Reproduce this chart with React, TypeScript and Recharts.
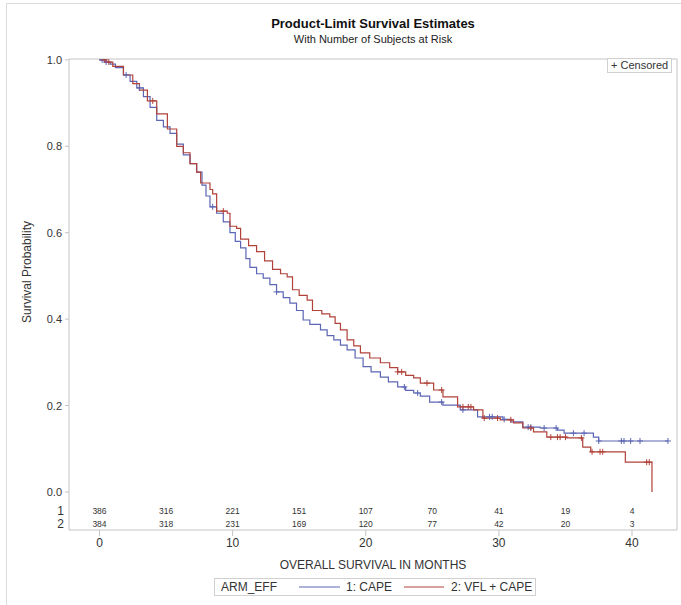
import { ComposedChart, Line, Scatter, XAxis, YAxis, ReferenceArea } from 'recharts'

// Kaplan-Meier steps (months, survival)
const capeTime = [0, 0.4, 0.8, 1.2, 1.8, 2.3, 2.8, 3.3, 3.8, 4.3, 4.8, 5.3, 5.8, 6.3, 6.8, 7.3, 7.7, 8.0, 8.3, 8.8, 9.3, 9.8, 10.2, 10.6, 11.0, 11.3, 11.8, 12.3, 12.8, 13.3, 13.8, 14.3, 14.8, 15.3, 15.8, 16.6, 17.1, 17.6, 18.1, 18.6, 19.2, 19.8, 20.4, 21.1, 21.7, 22.4, 23.0, 23.6, 24.1, 24.8, 25.8, 27.1, 28.4, 30.3, 30.9, 31.8, 33.1, 34.4, 34.9, 37.1, 37.5, 42.7]
const capeSurv = [1.0, 0.995, 0.99, 0.982, 0.965, 0.95, 0.935, 0.915, 0.89, 0.86, 0.845, 0.83, 0.805, 0.78, 0.76, 0.74, 0.71, 0.685, 0.66, 0.645, 0.625, 0.6, 0.58, 0.565, 0.54, 0.52, 0.505, 0.495, 0.48, 0.463, 0.45, 0.437, 0.42, 0.398, 0.388, 0.375, 0.362, 0.352, 0.34, 0.329, 0.31, 0.29, 0.278, 0.266, 0.255, 0.243, 0.235, 0.229, 0.222, 0.208, 0.201, 0.19, 0.174, 0.168, 0.162, 0.15, 0.148, 0.143, 0.136, 0.127, 0.118, 0.118]

const vflTime = [0, 0.5, 1.0, 1.8, 2.5, 3.0, 3.6, 4.3, 5.1, 5.8, 6.3, 6.8, 7.3, 7.6, 8.3, 8.5, 8.8, 9.6, 9.8, 10.3, 10.6, 11.2, 11.8, 12.4, 13.0, 13.6, 14.1, 14.5, 15.0, 15.6, 16.0, 16.7, 17.3, 17.7, 18.1, 18.6, 19.1, 19.6, 20.3, 21.1, 21.8, 22.4, 23.0, 23.6, 24.1, 25.1, 25.8, 26.9, 28.1, 28.8, 30.1, 31.1, 31.8, 32.6, 33.6, 35.1, 36.3, 36.9, 39.5, 41.5]
const vflSurv = [1.0, 0.995, 0.985, 0.965, 0.945, 0.93, 0.905, 0.875, 0.84, 0.8, 0.785, 0.76, 0.74, 0.715, 0.7, 0.69, 0.65, 0.645, 0.615, 0.61, 0.585, 0.57, 0.556, 0.535, 0.515, 0.505, 0.498, 0.468, 0.455, 0.444, 0.42, 0.412, 0.405, 0.39, 0.375, 0.352, 0.338, 0.322, 0.31, 0.299, 0.288, 0.278, 0.27, 0.264, 0.252, 0.236, 0.22, 0.197, 0.19, 0.171, 0.167, 0.16, 0.148, 0.139, 0.127, 0.125, 0.104, 0.093, 0.069, 0.0]

const capeCensored = [0.2, 0.5, 2.0, 3.0, 8.5, 13.3, 22.9, 23.9, 25.7, 27.3, 29.3, 29.5, 30.4, 32.2, 32.4, 33.4, 34.3, 35.6, 36.4, 37.5, 39.2, 39.4, 39.9, 40.6, 42.7]
const vflCensored = [0.4, 0.7, 4.0, 9.3, 22.4, 22.7, 24.6, 25.7, 27.3, 27.7, 27.9, 28.9, 29.9, 30.9, 32.4, 33.9, 34.4, 34.6, 35.0, 36.2, 37.0, 37.6, 37.8, 41.1, 41.3]

const riskTimes = [0, 5, 10, 15, 20, 25, 30, 35, 40]
const capeAtRisk = [386, 316, 221, 151, 107, 70, 41, 19, 4]
const vflAtRisk = [384, 318, 231, 169, 120, 77, 42, 20, 3]

const xTicks = [0, 10, 20, 30, 40]
const yTicks = [0, 0.2, 0.4, 0.6, 0.8, 1.0]

const BLUE = '#5c66b4'
const RED = '#b0423a'
const FRAME = '#c4c4c4'
const FONT = '"Liberation Sans", Arial, sans-serif'
const ROW1 = -0.044
const ROW2 = -0.074
const X_DOMAIN: [number, number] = [-2.29, 43.38]
const Y_DOMAIN: [number, number] = [-0.088, 1.002]

const survAt = (times: number[], surv: number[], t: number) => {
  let s = surv[0]
  for (let i = 0; i < times.length; i++) if (times[i] <= t) s = surv[i]
  return s
}

const capeData = capeTime.map((t, i) => ({ t, s: capeSurv[i] }))
const vflData = vflTime.map((t, i) => ({ t, s: vflSurv[i] }))
const capeMarks = capeCensored.map((t) => ({ t, s: survAt(capeTime, capeSurv, t) }))
const vflMarks = vflCensored.map((t) => ({ t, s: survAt(vflTime, vflSurv, t) }))
const riskData = [
  ...riskTimes.map((t, i) => ({ t, s: ROW1, n: capeAtRisk[i] })),
  ...riskTimes.map((t, i) => ({ t, s: ROW2, n: vflAtRisk[i] })),
]

const plus = (color: string) => (p: any) => (
  <path d={`M${p.cx - 3},${p.cy}h6M${p.cx},${p.cy - 3}v6`} stroke={color} strokeWidth={1} fill="none" />
)

const YTick = (p: any) => {
  const v = p.payload.value
  if (v < 0) {
    return (
      <text x={p.x + 2} y={p.y + 4} textAnchor="end" fontSize={12} fill="#333" fontFamily={FONT}>
        {v === ROW1 ? '1' : '2'}
      </text>
    )
  }
  return (
    <g>
      <line x1={p.x + 3} x2={p.x + 7} y1={p.y} y2={p.y} stroke={FRAME} />
      <text x={p.x} y={p.y + 4} textAnchor="end" fontSize={11} fill="#333" fontFamily={FONT}>
        {v.toFixed(1)}
      </text>
    </g>
  )
}

export default function App() {
  return (
    <div style={{ position: 'absolute', left: 0, top: 0, width: 681, height: 605, background: '#fff', fontFamily: FONT }}>
      <ComposedChart width={681} height={605} margin={{ top: 59, right: 4, left: 9, bottom: 45 }}>
        <XAxis
          type="number"
          dataKey="t"
          domain={X_DOMAIN}
          ticks={xTicks}
          allowDataOverflow
          axisLine={false}
          tickSize={6}
          tickLine={{ stroke: FRAME }}
          tick={{ fontSize: 12, fill: '#333', fontFamily: FONT }}
          height={30}
        />
        <YAxis
          type="number"
          dataKey="s"
          domain={Y_DOMAIN}
          ticks={[ROW2, ROW1, ...yTicks]}
          interval={0}
          allowDataOverflow
          axisLine={false}
          tickLine={false}
          tickSize={4}
          tickMargin={3}
          tick={<YTick />}
          width={60}
        />
        <ReferenceArea x1={X_DOMAIN[0]} x2={X_DOMAIN[1]} y1={Y_DOMAIN[0]} y2={Y_DOMAIN[1]} fill="none" stroke={FRAME} ifOverflow="visible" />
        <Line data={capeData} dataKey="s" type="stepAfter" stroke={BLUE} strokeWidth={1.2} dot={false} isAnimationActive={false} name="1: CAPE" />
        <Line data={vflData} dataKey="s" type="stepAfter" stroke={RED} strokeWidth={1.2} dot={false} isAnimationActive={false} name="2: VFL + CAPE" />
        <Scatter data={capeMarks} dataKey="s" shape={plus(BLUE)} isAnimationActive={false} />
        <Scatter data={vflMarks} dataKey="s" shape={plus(RED)} isAnimationActive={false} />
        <Scatter
          data={riskData}
          dataKey="s"
          isAnimationActive={false}
          shape={(p: any) => (
            <text x={p.cx} y={p.cy + 3} textAnchor="middle" fontSize={8.5} fill="#333" fontFamily={FONT}>
              {p.payload.n}
            </text>
          )}
        />
      </ComposedChart>
      <svg width={681} height={605} style={{ position: 'absolute', left: 0, top: 0, pointerEvents: 'none' }}>
        <path d="M6.5,605V3.5H681" stroke="#dcdcdc" fill="none" />
        <text x={373} y={28} textAnchor="middle" fontSize={13} fontWeight="bold" fill="#111">Product-Limit Survival Estimates</text>
        <text x={373} y={43} textAnchor="middle" fontSize={11} fill="#222">With Number of Subjects at Risk</text>
        <text transform="translate(31,272) rotate(-90)" textAnchor="middle" fontSize={12} fill="#333">Survival Probability</text>
        <text x={373} y={569} textAnchor="middle" fontSize={12} fill="#333">OVERALL SURVIVAL IN MONTHS</text>
        <rect x={607.5} y={58.5} width={64} height={14} fill="#fff" stroke="#d0d0d0" />
        <text x={611} y={69} fontSize={11} fill="#333">+ Censored</text>
        <rect x={214.5} y={578.5} width={321} height={17} fill="#fff" stroke="#d0d0d0" />
        <text x={221} y={591} fontSize={12} fill="#333">ARM_EFF</text>
        <line x1={299} x2={340} y1={587} y2={587} stroke={BLUE} />
        <text x={346} y={591} fontSize={12} fill="#333">1: CAPE</text>
        <line x1={404} x2={444} y1={587} y2={587} stroke={RED} />
        <text x={451} y={591} fontSize={12} fill="#333">2: VFL + CAPE</text>
      </svg>
    </div>
  )
}
